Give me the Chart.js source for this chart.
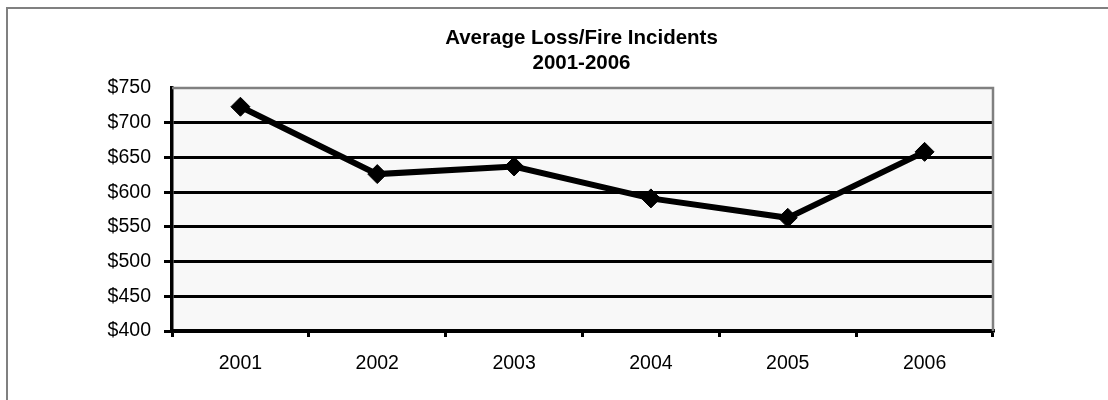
<!DOCTYPE html>
<html>
<head>
<meta charset="utf-8">
<script src="https://cdn.jsdelivr.net/npm/chart.js@4/dist/chart.umd.min.js"></script>
<style>
  html, body { margin: 0; padding: 0; background: #fff; overflow: hidden; }
  #wrap { position: relative; width: 1108px; height: 400px; }
  #frame { position: absolute; left: 6px; top: 7px; width: 1200px; height: 500px; border: 2px solid #808080; box-sizing: border-box; pointer-events: none; }
  canvas { position: absolute; left: 0; top: 0; }
</style>
</head>
<body>
<div id="wrap">
  <canvas id="c" width="1108" height="400"></canvas>
  <div id="frame"></div>
</div>
<script>
const categories = ['2001', '2002', '2003', '2004', '2005', '2006'];
const avgLoss = [723, 626, 637, 591, 563, 658];
const titleLines = ['Average Loss/Fire Incidents', '2001-2006'];
const yMin = 400, yMax = 750, yStep = 50;

const FONT = 'Liberation Sans, Arial, sans-serif';

const plotFrame = {
  id: 'plotFrame',
  beforeDraw(chart) {
    const a = chart.chartArea, ctx = chart.ctx;
    ctx.save();
    ctx.fillStyle = '#f8f8f8';
    ctx.fillRect(a.left, a.top, a.right - a.left, a.bottom - a.top);
    ctx.restore();
  },
  beforeDatasetsDraw(chart) {
    const a = chart.chartArea, ctx = chart.ctx;
    ctx.save();
    ctx.strokeStyle = '#808080';
    ctx.lineWidth = 2.5;
    ctx.beginPath();
    ctx.moveTo(a.left, a.top);
    ctx.lineTo(a.right, a.top);
    ctx.lineTo(a.right, a.bottom);
    ctx.stroke();
    ctx.restore();
  },
  afterDraw(chart) {
    const a = chart.chartArea, ctx = chart.ctx;
    ctx.save();
    ctx.fillStyle = '#000';
    ctx.font = 'bold 20.5px ' + FONT;
    ctx.textAlign = 'center';
    ctx.textBaseline = 'alphabetic';
    const cx = (a.left + a.right) / 2 - 1;
    ctx.fillText(titleLines[0], cx, 43.5);
    ctx.fillText(titleLines[1], cx, 69);
    ctx.restore();
  }
};

new Chart(document.getElementById('c'), {
  type: 'line',
  data: {
    labels: categories,
    datasets: [{
      data: avgLoss,
      borderColor: '#000',
      backgroundColor: '#000',
      borderWidth: 6,
      pointStyle: 'rectRot',
      pointRadius: 9.5,
      pointHoverRadius: 9.5,
      pointBackgroundColor: '#000',
      pointBorderColor: '#000',
      pointBorderWidth: 1,
      tension: 0,
      fill: false
    }]
  },
  options: {
    responsive: false,
    animation: false,
    devicePixelRatio: 1,
    layout: { padding: { left: 0, right: 115, top: 88, bottom: 0 } },
    plugins: {
      legend: { display: false },
      tooltip: { enabled: false },
      title: { display: false }
    },
    scales: {
      x: {
        offset: true,
        grid: {
          offset: true,
          drawOnChartArea: false,
          drawTicks: true,
          tickLength: 6,
          color: '#000',
          lineWidth: 3
        },
        border: { display: true, color: '#000', width: 3.5 },
        ticks: {
          color: '#000',
          padding: 15,
          font: { family: FONT, size: 19.5 }
        },
        afterFit(scale) { scale.height = 69; }
      },
      y: {
        min: yMin,
        max: yMax,
        grid: {
          color: ctx => (ctx.tick && ctx.tick.value === yMax) ? 'rgba(0,0,0,0)' : '#000',
          lineWidth: 3,
          tickLength: 8,
          drawTicks: true
        },
        border: { display: true, color: '#000', width: 3.5 },
        ticks: {
          stepSize: yStep,
          color: '#000',
          padding: 13,
          font: { family: FONT, size: 19.5 },
          callback: v => '$' + v
        },
        afterFit(scale) { scale.width = 172; }
      }
    }
  },
  plugins: [plotFrame]
});
</script>
</body>
</html>
